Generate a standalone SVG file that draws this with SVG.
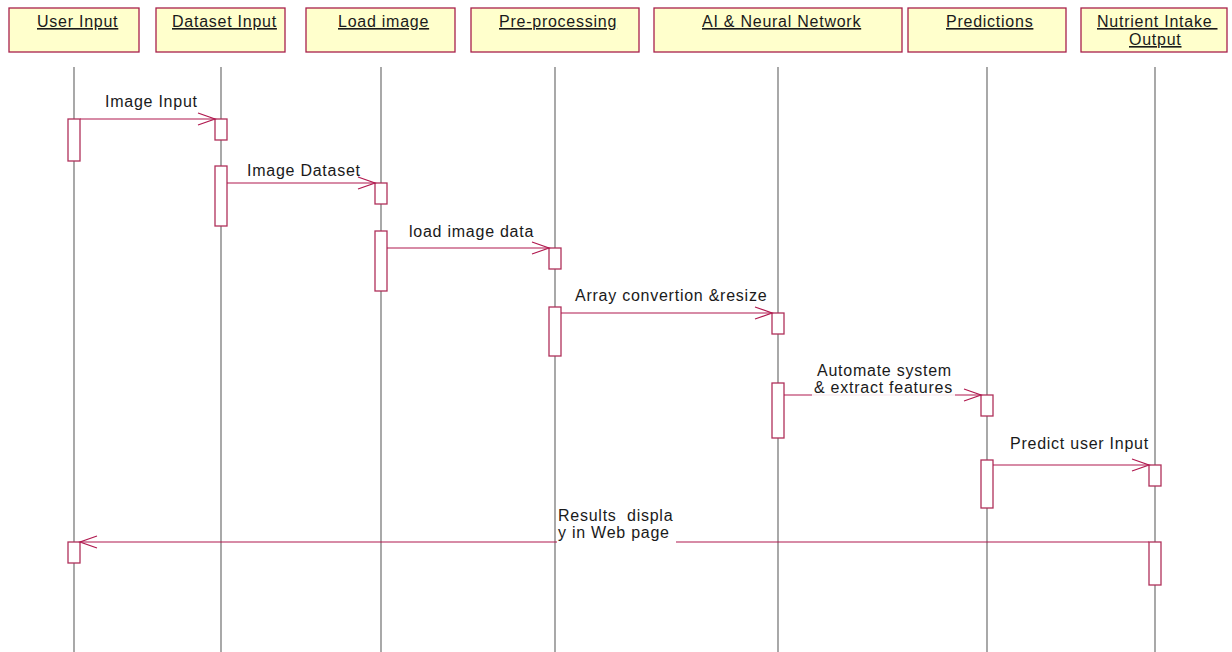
<svg xmlns="http://www.w3.org/2000/svg" width="1232" height="652" viewBox="0 0 1232 652">
  <defs>
    <style>
      .obj { fill: #ffffcc; stroke: #a8204c; stroke-width: 1.3; }
      .life { stroke: #7a7a7a; stroke-width: 1.3; fill: none; }
      .act { fill: #ffffff; stroke: #b0305a; stroke-width: 1.3; }
      .msg { stroke: #b0184e; stroke-width: 1.1; fill: none; marker-end: url(#open); }
      text { font-family: "Liberation Sans", Arial, sans-serif; font-size: 16px; letter-spacing: 0.75px; fill: #1a1a1a; white-space: pre; }
      .hdr { text-decoration: underline; }
      .mask { fill: #ffffff; fill-opacity: 0.88; }
    </style>
    <marker id="open" markerWidth="20" markerHeight="14" refX="0" refY="0" viewBox="-18 -7 20 14" orient="auto" markerUnits="userSpaceOnUse" overflow="visible">
      <path d="M -17 -6 L 0 0 L -17 6" fill="none" stroke="#b0184e" stroke-width="1.2"/>
    </marker>
  </defs>

  <!-- lifelines -->
  <g id="lifelines">
    <line class="life" x1="74" y1="67" x2="74" y2="652"/>
    <line class="life" x1="221" y1="67" x2="221" y2="652"/>
    <line class="life" x1="381" y1="67" x2="381" y2="652"/>
    <line class="life" x1="555" y1="67" x2="555" y2="652"/>
    <line class="life" x1="778" y1="67" x2="778" y2="652"/>
    <line class="life" x1="987" y1="67" x2="987" y2="652"/>
    <line class="life" x1="1155" y1="67" x2="1155" y2="652"/>
  </g>

  <!-- participants -->
  <g id="user-input">
    <rect class="obj" x="9" y="8" width="130" height="44"/>
    <text class="hdr" x="37" y="27">User Input</text>
    <rect class="act" x="68" y="119" width="12" height="42"/>
    <rect class="act" x="68" y="542" width="12" height="21"/>
  </g>
  <g id="dataset-input">
    <rect class="obj" x="156" y="8" width="129" height="44"/>
    <text class="hdr" x="172" y="27">Dataset Input</text>
    <rect class="act" x="215" y="119" width="12" height="21"/>
    <rect class="act" x="215" y="166" width="12" height="60"/>
  </g>
  <g id="load-image">
    <rect class="obj" x="306" y="8" width="149" height="44"/>
    <text class="hdr" x="338" y="27">Load image</text>
    <rect class="act" x="375" y="183" width="12" height="21"/>
    <rect class="act" x="375" y="231" width="12" height="60"/>
  </g>
  <g id="pre-processing">
    <rect class="obj" x="471" y="8" width="168" height="44"/>
    <text class="hdr" x="499" y="27">Pre-processing</text>
    <rect class="act" x="549" y="248" width="12" height="21"/>
    <rect class="act" x="549" y="307" width="12" height="49"/>
  </g>
  <g id="ai-neural-network">
    <rect class="obj" x="654" y="8" width="248" height="44"/>
    <text class="hdr" x="702" y="27">AI &amp; Neural Network</text>
    <rect class="act" x="772" y="313" width="12" height="21"/>
    <rect class="act" x="772" y="383" width="12" height="55"/>
  </g>
  <g id="predictions">
    <rect class="obj" x="908" y="8" width="158" height="44"/>
    <text class="hdr" x="946" y="27">Predictions</text>
    <rect class="act" x="981" y="395" width="12" height="21"/>
    <rect class="act" x="981" y="460" width="12" height="48"/>
  </g>
  <g id="nutrient-intake-output">
    <rect class="obj" x="1081" y="8" width="146" height="44"/>
    <text class="hdr" x="1097" y="27">Nutrient Intake </text>
    <text class="hdr" x="1129" y="45">Output</text>
    <rect class="act" x="1149" y="465" width="12" height="21"/>
    <rect class="act" x="1149" y="542" width="12" height="43"/>
  </g>

  <!-- messages -->
  <g id="messages">
    <line class="msg" x1="80" y1="119" x2="215" y2="119"/>
    <text x="105" y="107">Image Input</text>

    <line class="msg" x1="227" y1="183" x2="375" y2="183"/>
    <text x="247" y="176">Image Dataset</text>

    <line class="msg" x1="387" y1="248" x2="549" y2="248"/>
    <text x="409" y="237">load image data</text>

    <line class="msg" x1="561" y1="313" x2="772" y2="313"/>
    <text x="575" y="301">Array convertion &amp;resize</text>

    <line class="msg" x1="784" y1="395" x2="981" y2="395"/>
    <rect class="mask" x="812" y="381" width="143" height="16"/>
    <text x="817" y="376">Automate system</text>
    <text x="814" y="393">&amp; extract features</text>

    <line class="msg" x1="993" y1="465" x2="1149" y2="465"/>
    <text x="1010" y="449">Predict user Input</text>

    <line class="msg" x1="1149" y1="542" x2="80" y2="542"/>
    <rect fill="#ffffff" x="557" y="525" width="119" height="19"/>
    <text x="558" y="521">Results  displa</text>
    <text x="558" y="538">y in Web page</text>
  </g>
</svg>
